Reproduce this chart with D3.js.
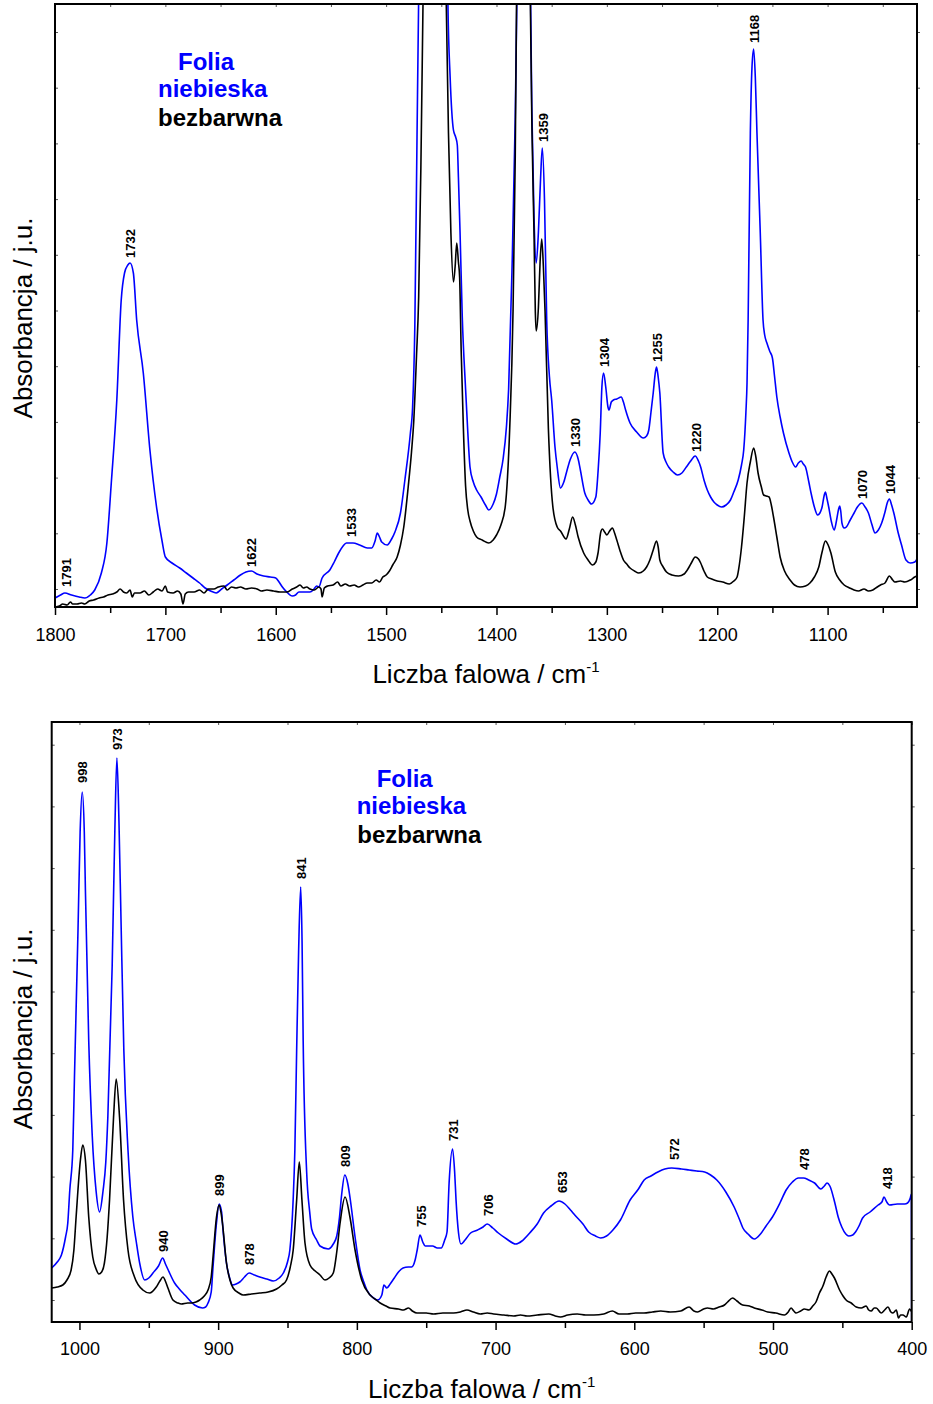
<!DOCTYPE html>
<html>
<head>
<meta charset="utf-8">
<script src="https://cdn.jsdelivr.net/npm/d3@7"></script>
<style>
    body { margin: 0; background: #fff; }
    svg text { font-family: "Liberation Sans", Arial, sans-serif; }
</style>
</head>
<body>
<svg id="chart" width="933" height="1404"></svg>
<script>
// ---- data: [wavenumber cm-1, absorbance a.u.] ----
// top panel, blue foil
const blueTop = [[1800,0.09],[1795,0.12],[1791,0.14],[1785,0.12],[1778,0.10],[1773,0.09],[1768,0.12],[1764,0.17],[1758,0.34],[1753,0.64],[1749,1.24],[1744,2.07],[1740,3.07],[1737,3.34],[1734,3.42],[1732,3.44],[1729,3.34],[1726,2.87],[1720,2.34],[1714,1.57],[1708,1.00],[1703,0.66],[1700,0.50],[1694,0.44],[1687,0.39],[1681,0.34],[1675,0.29],[1669,0.24],[1664,0.19],[1659,0.16],[1654,0.14],[1649,0.18],[1644,0.22],[1638,0.27],[1632,0.32],[1627,0.35],[1622,0.36],[1617,0.33],[1611,0.31],[1605,0.30],[1600,0.29],[1597,0.25],[1594,0.20],[1590,0.15],[1585,0.11],[1582,0.12],[1579,0.15],[1574,0.15],[1569,0.15],[1566,0.17],[1563,0.21],[1561,0.20],[1558,0.29],[1551,0.37],[1547,0.45],[1543,0.54],[1539,0.61],[1536,0.64],[1530,0.64],[1524,0.62],[1517,0.59],[1513,0.59],[1510,0.66],[1508,0.74],[1506,0.70],[1504,0.65],[1499,0.62],[1495,0.68],[1492,0.75],[1487,0.94],[1483,1.27],[1478,1.74],[1476,2.0],[1474,2.8],[1472,4.7],[1470.5,6.1],[1466,9],[1458,11],[1450,11],[1446.5,9],[1444,6.03],[1442,5.3],[1439,4.77],[1437,4.70],[1435.5,4.62],[1434.5,4.3],[1433,3.74],[1431,2.9],[1428,2.18],[1426,1.75],[1424,1.40],[1421,1.25],[1418,1.17],[1414,1.1],[1410,1.02],[1407,0.97],[1403,1.03],[1400,1.13],[1397,1.3],[1394,1.48],[1391,1.8],[1389,2.18],[1386,3.35],[1383,4.9],[1381,6.5],[1377,10],[1373,10],[1370,7],[1368,5.0],[1366,3.9],[1364,3.44],[1362,3.75],[1360,4.3],[1358.5,4.59],[1356.5,4.07],[1354.5,2.87],[1352,2.3],[1350,2.07],[1347,1.6],[1345,1.40],[1342,1.19],[1339,1.25],[1336,1.37],[1333,1.48],[1329,1.55],[1326,1.48],[1324,1.37],[1320,1.14],[1317,1.07],[1314,1.03],[1310,1.10],[1308,1.35],[1306,1.74],[1304.5,2.2],[1303,2.34],[1301,2.20],[1299,2.0],[1298,1.97],[1296,2.05],[1294,2.07],[1291,2.08],[1287,2.10],[1285,2.05],[1283,1.97],[1279,1.84],[1273,1.75],[1267,1.69],[1264,1.71],[1262,1.77],[1260,1.95],[1258,2.14],[1256,2.35],[1255,2.40],[1253.5,2.3],[1252,2.14],[1249,1.54],[1246,1.44],[1244,1.40],[1240,1.35],[1236,1.32],[1232,1.34],[1228,1.40],[1224,1.46],[1220,1.51],[1217,1.46],[1215,1.40],[1212,1.27],[1209,1.17],[1206,1.10],[1203,1.05],[1200,1.02],[1196,1.00],[1192,1.02],[1188,1.07],[1185,1.15],[1181,1.27],[1178,1.42],[1176,1.57],[1174,1.95],[1173,2.24],[1172,2.87],[1170,4.74],[1168.5,5.4],[1167,5.58],[1165.5,5.3],[1164,4.74],[1161,3.74],[1158.5,2.87],[1157,2.72],[1155,2.64],[1152.5,2.56],[1150,2.49],[1148,2.3],[1146,2.10],[1143,1.9],[1140,1.74],[1135,1.54],[1132,1.45],[1129,1.40],[1126.5,1.44],[1124,1.46],[1122,1.43],[1120,1.40],[1117,1.25],[1115,1.14],[1112,1.0],[1109,0.92],[1107,0.94],[1105,1.00],[1103,1.12],[1102,1.15],[1100.5,1.08],[1099,1.00],[1096.5,0.85],[1094,0.77],[1092,0.86],[1090,0.98],[1089,1.01],[1088,0.95],[1087,0.84],[1085,0.79],[1083,0.80],[1080,0.86],[1076,0.94],[1073,1.0],[1069,1.04],[1066,1.0],[1063,0.94],[1060,0.83],[1057,0.74],[1054,0.77],[1051,0.84],[1048,0.95],[1046,1.04],[1044,1.08],[1042,1.02],[1040,0.94],[1036,0.74],[1033,0.62],[1029,0.47],[1025,0.44],[1021,0.45],[1019,0.48]];

// top panel, colourless foil
const blackTop = [[1800,0.0],[1796,0.01],[1793,0.03],[1789,0.02],[1786,0.05],[1784,0.03],[1780,0.03],[1776,0.04],[1773,0.03],[1769,0.06],[1765,0.07],[1760,0.09],[1756,0.10],[1752,0.12],[1748,0.13],[1744,0.15],[1741,0.18],[1738,0.15],[1735,0.14],[1732,0.17],[1730,0.10],[1728,0.14],[1723,0.14],[1719,0.16],[1715,0.12],[1711,0.15],[1707,0.18],[1703,0.16],[1700,0.21],[1698,0.15],[1693,0.14],[1689,0.16],[1686,0.13],[1684,0.03],[1682,0.13],[1679,0.15],[1674,0.15],[1669,0.17],[1665,0.14],[1661,0.18],[1656,0.18],[1652,0.2],[1647,0.21],[1644,0.17],[1640,0.2],[1636,0.19],[1632,0.2],[1627,0.18],[1622,0.19],[1617,0.18],[1613,0.16],[1608,0.17],[1602,0.16],[1596,0.15],[1590,0.15],[1585,0.18],[1581,0.2],[1578,0.22],[1575,0.19],[1572,0.2],[1569,0.18],[1565,0.17],[1561,0.20],[1559,0.18],[1558,0.10],[1556,0.19],[1553,0.21],[1548,0.22],[1544,0.25],[1541,0.21],[1537,0.23],[1533,0.21],[1529,0.22],[1525,0.2],[1521,0.22],[1517,0.24],[1513,0.24],[1509,0.27],[1506,0.25],[1503,0.30],[1500,0.32],[1497,0.36],[1494,0.42],[1490,0.50],[1487,0.62],[1484,0.80],[1480,1.20],[1477,1.55],[1475,1.85],[1472.5,2.5],[1470.5,3.1],[1468.5,4.4],[1466.5,6.1],[1462,9.5],[1455,11],[1449,9.5],[1445.5,6.03],[1443.5,4.74],[1441.3,3.74],[1439,3.25],[1437.5,3.4],[1436,3.64],[1434.5,3.45],[1433.4,3.3],[1432,2.57],[1430,1.79],[1428,1.21],[1426,0.97],[1424,0.86],[1421,0.76],[1418,0.70],[1413,0.67],[1407,0.64],[1403,0.67],[1400,0.72],[1396,0.82],[1392,1.01],[1390,1.3],[1388,1.79],[1385,2.96],[1383,4.51],[1381.5,6.5],[1377,10],[1372,10],[1370,7],[1369.3,6.03],[1367.8,4.74],[1366,3.74],[1364.8,2.95],[1364,2.76],[1362,3.0],[1360.5,3.45],[1359,3.68],[1357.5,3.4],[1356,2.96],[1353,1.79],[1351,1.3],[1349,1.01],[1345,0.80],[1342,0.76],[1337,0.68],[1334,0.78],[1331,0.90],[1328.5,0.82],[1326,0.70],[1321,0.54],[1317,0.47],[1313,0.42],[1310,0.45],[1308,0.54],[1305.5,0.75],[1304,0.78],[1302,0.75],[1300,0.72],[1297.5,0.76],[1295,0.79],[1293,0.74],[1291,0.67],[1288,0.56],[1285,0.47],[1282,0.43],[1279,0.39],[1275,0.36],[1271,0.34],[1267,0.36],[1264,0.40],[1261,0.47],[1258,0.57],[1255,0.66],[1253.5,0.6],[1252,0.47],[1249,0.40],[1246,0.35],[1241,0.32],[1235,0.31],[1230,0.33],[1226,0.39],[1223,0.45],[1220,0.50],[1217,0.48],[1215,0.44],[1212,0.36],[1209,0.30],[1205,0.28],[1200,0.26],[1195,0.25],[1189,0.23],[1185,0.26],[1182,0.30],[1180,0.42],[1178,0.60],[1175.5,0.9],[1173,1.24],[1170,1.45],[1167,1.59],[1165,1.5],[1163,1.34],[1160,1.2],[1158,1.12],[1155.5,1.11],[1153,1.10],[1151,1.02],[1149,0.90],[1146,0.70],[1143,0.50],[1139,0.36],[1134,0.27],[1130,0.22],[1125,0.20],[1120,0.21],[1116,0.24],[1112,0.30],[1108,0.40],[1105,0.55],[1102,0.66],[1099.5,0.62],[1097,0.54],[1093,0.35],[1089,0.27],[1085,0.22],[1080,0.19],[1076,0.17],[1072,0.16],[1067,0.18],[1063,0.16],[1059,0.17],[1055,0.20],[1052,0.22],[1048,0.24],[1044,0.31],[1041,0.27],[1039,0.25],[1034,0.26],[1030,0.25],[1025,0.27],[1021,0.30],[1019,0.31]];

// bottom panel, blue foil
const blueBottom = [[1020,0.54],[1016,0.6],[1013,0.67],[1010,0.85],[1008.4,0.99],[1007,1.31],[1004.8,1.72],[1003.6,2.44],[1001,3.94],[999.5,4.9],[998,5.30],[996.5,4.9],[995.7,4.32],[993.3,2.81],[990.8,1.87],[988,1.31],[985.5,1.10],[983,1.31],[981,1.6],[979.5,2.06],[976.4,3.56],[974.5,4.9],[973,5.64],[971.5,5.0],[970,4.0],[968,2.72],[965,1.72],[961.5,1.05],[959,0.8],[956.6,0.59],[953,0.42],[950,0.44],[947,0.49],[943,0.56],[940,0.64],[938,0.58],[936,0.52],[931.4,0.39],[928,0.33],[924,0.27],[917,0.17],[911.3,0.14],[909,0.15],[907.3,0.19],[905,0.3],[903.7,0.55],[901.2,0.99],[899.3,1.18],[897.5,1.1],[896.9,0.99],[894,0.59],[891.5,0.43],[889.7,0.37],[887,0.38],[884.4,0.40],[881,0.45],[877.7,0.49],[874,0.47],[870,0.45],[865,0.43],[860.3,0.41],[856,0.44],[853,0.49],[850,0.6],[848.3,0.72],[846,1.2],[844.7,1.72],[843.4,2.72],[842,3.7],[840.5,4.35],[839.5,3.8],[838.7,2.81],[836.2,1.50],[834,1.1],[832.6,0.93],[829,0.82],[826.6,0.76],[820.6,0.73],[817,0.78],[814.5,0.86],[812.5,1.05],[811,1.27],[808.7,1.47],[806.5,1.38],[805,1.25],[801.3,0.85],[797.7,0.52],[795,0.40],[792.8,0.32],[788,0.24],[785,0.22],[782,0.27],[780.5,0.37],[778.4,0.34],[776,0.38],[773,0.44],[770,0.5],[766.7,0.54],[763,0.55],[760.5,0.55],[758,0.62],[756.5,0.72],[754.5,0.87],[752.5,0.80],[750.7,0.76],[748,0.76],[745.4,0.76],[742,0.74],[739.2,0.74],[736.7,0.82],[735,0.9],[733.5,1.39],[731,1.73],[729.5,1.5],[728.5,1.22],[726.7,0.89],[724.9,0.78],[722,0.82],[718,0.89],[713,0.92],[709,0.95],[706,0.98],[702,0.94],[698,0.89],[692,0.83],[685.5,0.78],[681,0.81],[675.4,0.89],[670,0.98],[665.4,1.09],[660,1.16],[654.2,1.21],[650,1.18],[646,1.12],[642.9,1.07],[637,0.98],[632.9,0.90],[628,0.86],[624.2,0.84],[620,0.86],[615.4,0.92],[610,1.02],[603,1.22],[597,1.33],[592.9,1.42],[588,1.46],[583,1.50],[578,1.53],[573,1.54],[566,1.53],[560.5,1.52],[555,1.51],[549.3,1.50],[545,1.47],[540.5,1.42],[534,1.3],[528,1.15],[524,1.02],[521.7,0.94],[518,0.88],[513.4,0.83],[509,0.88],[505,0.96],[500.4,1.05],[495,1.19],[490.5,1.32],[486,1.40],[481.7,1.44],[478,1.44],[474.2,1.42],[470,1.39],[465.5,1.33],[463,1.36],[461,1.39],[459,1.36],[455.4,1.19],[453,1.05],[450.4,0.95],[447.5,0.88],[445.4,0.86],[442.5,0.87],[440.5,0.90],[438,0.96],[435.4,1.04],[430,1.1],[424.2,1.17],[421.5,1.2],[420,1.25],[418,1.2],[416,1.17],[410.4,1.18],[405,1.18],[403,1.19],[401,1.24],[400.2,1.28],[400,0]];

// bottom panel, colourless foil
const blackBottom = [[1020,0.34],[1016,0.35],[1012,0.37],[1009,0.42],[1006,0.52],[1004,0.72],[1002.4,1.05],[999.3,1.62],[997.6,1.77],[995.7,1.62],[993.3,1.05],[990.4,0.65],[988,0.53],[986,0.48],[984,0.5],[982,0.59],[980,0.85],[978.3,1.22],[975.4,2.05],[973.5,2.43],[971.1,2.05],[968.2,1.22],[965,0.72],[960.3,0.45],[954.3,0.32],[949.4,0.29],[944.6,0.35],[942,0.41],[939.8,0.45],[937.5,0.39],[936.2,0.34],[932.6,0.22],[929,0.19],[926.5,0.18],[922,0.19],[919.3,0.19],[916,0.2],[913.3,0.22],[910,0.26],[907.3,0.32],[905,0.45],[903.7,0.65],[901.2,1.05],[899.3,1.17],[898,1.1],[896.9,0.99],[894,0.59],[891.5,0.42],[889.2,0.34],[885,0.29],[882,0.27],[876,0.28],[870,0.29],[864,0.3],[857.9,0.33],[854,0.37],[850.7,0.42],[848,0.55],[845.9,0.72],[843.4,1.22],[841.5,1.60],[839.6,1.22],[837.4,0.79],[833.8,0.57],[830,0.51],[826.6,0.47],[823,0.42],[820,0.44],[817,0.49],[814.5,0.7],[812.1,0.99],[808.5,1.25],[805,1.05],[801.3,0.72],[796.5,0.42],[790.5,0.27],[786,0.22],[783.2,0.19],[779,0.16],[776,0.14],[770,0.13],[766.4,0.12],[762.8,0.14],[760,0.11],[756.7,0.09],[750,0.09],[744.7,0.08],[738,0.09],[730.3,0.09],[725.4,0.10],[720.6,0.12],[716,0.1],[711,0.08],[706,0.09],[701.4,0.08],[694,0.07],[686.9,0.06],[682,0.07],[677.3,0.06],[670,0.07],[661.6,0.08],[657,0.06],[653.2,0.05],[648,0.07],[641.1,0.08],[635,0.07],[629.1,0.07],[622,0.08],[615.8,0.11],[611,0.08],[605,0.08],[599,0.09],[593,0.09],[587,0.1],[580.9,0.11],[574,0.1],[566.5,0.11],[560.5,0.15],[557,0.11],[554.4,0.10],[550,0.13],[547.2,0.14],[543,0.13],[538.8,0.15],[535,0.17],[532.7,0.20],[529.1,0.24],[526,0.21],[521.9,0.17],[517,0.16],[513.5,0.14],[508,0.12],[503.8,0.10],[498,0.09],[491.8,0.07],[489,0.1],[487,0.14],[485,0.11],[483.4,0.09],[480,0.11],[477.4,0.13],[474,0.12],[471.3,0.16],[469,0.2],[466.5,0.29],[464,0.36],[461.7,0.45],[459.3,0.51],[457.5,0.48],[455.7,0.44],[452,0.32],[449.5,0.26],[447.3,0.22],[443.6,0.19],[440,0.15],[436.4,0.14],[432.8,0.16],[431,0.12],[429.2,0.11],[427,0.14],[425.6,0.14],[422,0.09],[419.5,0.12],[417.1,0.15],[415,0.1],[413.5,0.09],[411.1,0.12],[409.5,0.04],[408,0.07],[406.3,0.07],[403.9,0.05],[401.5,0.13],[400,0.10]];

// peak labels (text, position, height of label foot)
const topLabelText = ["1791", "1732", "1622", "1533", "1359", "1330", "1304", "1255", "1220", "1168", "1070", "1044"];
const topLabelWn = [1789.4, 1731.3, 1621.7, 1531.6, 1357.9, 1328.6, 1302, 1254.5, 1219.2, 1166, 1068.6, 1042.9];
const topLabelA = [0.20, 3.49, 0.40, 0.70, 4.65, 1.60, 2.40, 2.45, 1.55, 5.64, 1.08, 1.13];

const bottomLabelText = ["998", "973", "940", "899", "878", "841", "809", "755", "731", "706", "653", "572", "478", "418"];
const bottomLabelWn = [997.6, 972.3, 939.3, 898.8, 877.2, 840.3, 808.5, 753.8, 730.3, 705, 652, 571.3, 477.4, 417.6];
const bottomLabelA = [5.39, 5.72, 0.70, 1.26, 0.57, 4.43, 1.55, 0.95, 1.81, 1.06, 1.29, 1.62, 1.52, 1.33];

// x tick labels
const topMajorTicks = [1800, 1700, 1600, 1500, 1400, 1300, 1200, 1100];
const topMinorTicks = [1750, 1650, 1550, 1450, 1350, 1250, 1150, 1050];
const bottomMajorTicks = [1000, 900, 800, 700, 600, 500, 400];
const bottomMinorTicks = [950, 850, 750, 650, 550, 450];

const legendLines = ["Folia", "niebieska", "bezbarwna"];
const legendColors = ["#0000ff", "#0000ff", "#000000"];

var svg = d3.select("#chart");
svg.append("rect").attr("width", 933).attr("height", 1404).attr("fill", "#fff");

function drawPanel (p) {
    var x = d3.scaleLinear().domain(p.xDomain).range([p.left, p.right]);
    var y = d3.scaleLinear().domain(p.yDomain).range([p.bottom, p.top]);
    var g = svg.append("g");

    //clip so the off-scale peaks are cut at the frame
    g.append("clipPath").attr("id", p.id + "_clip")
        .append("rect")
        .attr("x", p.left).attr("y", p.top)
        .attr("width", p.right - p.left).attr("height", p.bottom - p.top);

    var line = d3.line()
        .x(function (d) { return x(d[0]); })
        .y(function (d) { return y(d[1]); })
        .curve(d3.curveMonotoneX);

    p.series.forEach(function (s) {
        g.append("path")
            .datum(s.data)
            .attr("clip-path", "url(#" + p.id + "_clip)")
            .attr("fill", "none")
            .attr("stroke", s.color)
            .attr("stroke-width", 1.6)
            .attr("stroke-linejoin", "round")
            .attr("d", line);
    });

    //bottom axis: labelled majors + minor ticks
    var xAxis = g.append("g")
        .attr("transform", "translate(0," + p.bottom + ")")
        .call(d3.axisBottom(x).tickValues(p.majors).tickSize(8).tickPadding(p.tickPad).tickFormat(d3.format("d")));
    xAxis.select(".domain").remove();
    xAxis.selectAll("line").attr("stroke-width", 1.5);
    xAxis.selectAll("text").attr("font-size", 18).attr("fill", "#000")
        .attr("font-family", "'Liberation Sans', Arial, sans-serif");
    var xMinor = g.append("g")
        .attr("transform", "translate(0," + p.bottom + ")")
        .call(d3.axisBottom(x).tickValues(p.minors).tickSize(6).tickFormat(""));
    xMinor.select(".domain").remove();
    xMinor.selectAll("line").attr("stroke-width", 1.5);

    //small inner ticks on top, left and right
    var topTicks = g.append("g")
        .attr("transform", "translate(0," + p.top + ")")
        .call(d3.axisBottom(x).tickValues(p.majors.concat(p.minors)).tickSize(3).tickFormat(""));
    topTicks.select(".domain").remove();
    topTicks.selectAll("line").attr("stroke", "#555");

    var yTicks = d3.range(p.yTickStart, p.yDomain[1], p.yTickStep);
    var leftTicks = g.append("g")
        .attr("transform", "translate(" + p.left + ",0)")
        .call(d3.axisRight(y).tickValues(yTicks).tickSize(3).tickFormat(""));
    leftTicks.select(".domain").remove();
    leftTicks.selectAll("line").attr("stroke", "#555");
    var rightTicks = g.append("g")
        .attr("transform", "translate(" + p.right + ",0)")
        .call(d3.axisRight(y).tickValues(yTicks).tickSize(3).tickFormat(""));
    rightTicks.select(".domain").remove();
    rightTicks.selectAll("line").attr("stroke", "#555");

    //frame
    g.append("rect")
        .attr("x", p.left).attr("y", p.top)
        .attr("width", p.right - p.left).attr("height", p.bottom - p.top)
        .attr("fill", "none").attr("stroke", "#000").attr("stroke-width", 2);

    //peak labels
    p.labelText.forEach(function (t, i) {
        g.append("text")
            .attr("transform", "translate(" + x(p.labelWn[i]) + "," + y(p.labelA[i]) + ")rotate(-90)")
            .attr("dy", "0.35em")
            .attr("text-anchor", "start")
            .attr("font-size", 13)
            .attr("font-weight", "bold")
            .text(t);
    });

    //legend
    legendLines.forEach(function (t, i) {
        g.append("text")
            .attr("x", p.legend[i][0]).attr("y", p.legend[i][1])
            .attr("font-size", 24)
            .attr("font-weight", "bold")
            .attr("fill", legendColors[i])
            .text(t);
    });

    //axis titles
    var xTitle = g.append("text")
        .attr("x", (p.left + p.right) / 2)
        .attr("y", p.xTitleY)
        .attr("text-anchor", "middle")
        .attr("font-size", 26)
        .text("Liczba falowa / cm");
    xTitle.append("tspan").attr("dy", -11).attr("font-size", 15).text("-1");

    g.append("text")
        .attr("transform", "translate(32," + p.yTitleY + ")rotate(-90)")
        .attr("text-anchor", "middle")
        .attr("font-size", 26)
        .text("Absorbancja / j.u.");
}

drawPanel({
    id: "top",
    left: 55, right: 917, top: 4, bottom: 607,
    xDomain: [1800, 1019], yDomain: [0, 6.03],
    yTickStart: 0.18, yTickStep: 0.557,
    majors: topMajorTicks, minors: topMinorTicks, tickPad: 13,
    series: [{data: blueTop, color: "#0000ff"}, {data: blackTop, color: "#000000"}],
    labelText: topLabelText, labelWn: topLabelWn, labelA: topLabelA,
    legend: [[178, 70], [158, 97], [158, 126]],
    xTitleY: 683, yTitleY: 318
});

drawPanel({
    id: "bottom",
    left: 51.7, right: 911.7, top: 722, bottom: 1322,
    xDomain: [1020, 400], yDomain: [0, 6.0],
    yTickStart: 0.22, yTickStep: 0.617,
    majors: bottomMajorTicks, minors: bottomMinorTicks, tickPad: 12,
    series: [{data: blueBottom, color: "#0000ff"}, {data: blackBottom, color: "#000000"}],
    labelText: bottomLabelText, labelWn: bottomLabelWn, labelA: bottomLabelA,
    legend: [[376.7, 787], [356.7, 814], [357.3, 842.5]],
    xTitleY: 1398, yTitleY: 1029
});
</script>
</body>
</html>
